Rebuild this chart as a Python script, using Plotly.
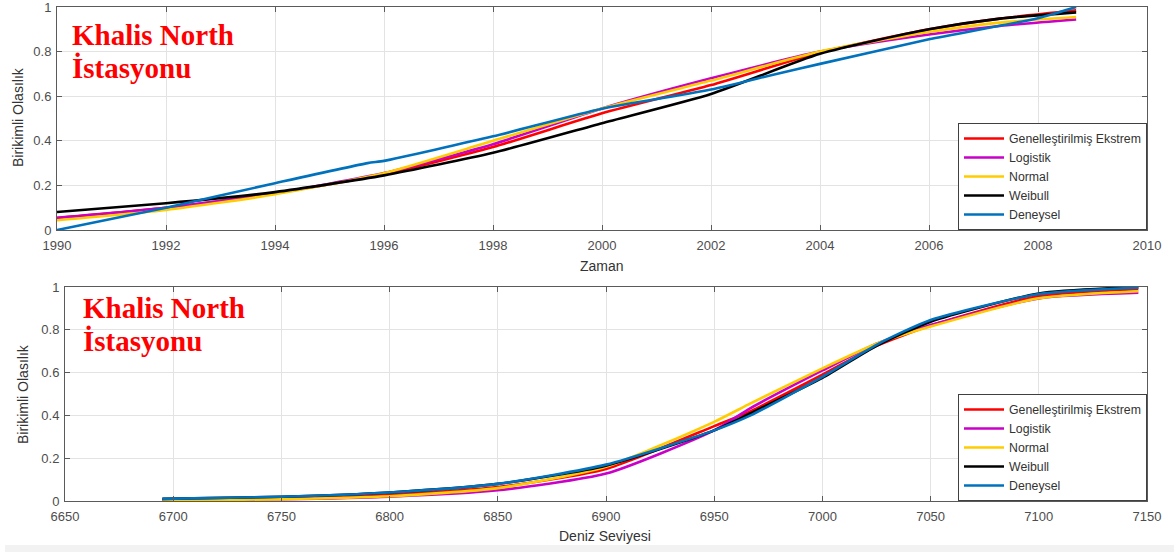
import plotly.graph_objects as go

W, H = 1174, 552

# ---- Top panel data (Zaman) ----
t_years = [1990, 1992, 1994, 1996, 1998, 2000, 2002, 2004, 2006, 2007.3, 2008.7]
t_gev = [0.055, 0.10, 0.165, 0.25, 0.372, 0.523, 0.65, 0.796, 0.90, 0.948, 0.985]
t_log = [0.054, 0.10, 0.165, 0.255, 0.385, 0.545, 0.68, 0.80, 0.877, 0.915, 0.944]
t_norm = [0.044, 0.09, 0.16, 0.255, 0.40, 0.545, 0.67, 0.80, 0.888, 0.93, 0.955]
t_weib = [0.081, 0.12, 0.17, 0.245, 0.346, 0.479, 0.61, 0.79, 0.90, 0.948, 0.976]
t_emp_x = [1990, 1992, 1994, 1995.7, 1996, 1998, 2000, 2002, 2003.2, 2004, 2006, 2008, 2008.7]
t_emp = [0.0, 0.10, 0.21, 0.30, 0.31, 0.42, 0.544, 0.63, 0.70, 0.745, 0.855, 0.95, 1.0]

# ---- Bottom panel data (Deniz Seviyesi) ----
b_x = [6695, 6750, 6800, 6850, 6900, 6950, 6966.8, 7000, 7025, 7050, 7100, 7146]
b_gev = [0.005, 0.012, 0.03, 0.065, 0.15, 0.35, 0.42, 0.59, 0.725, 0.82, 0.958, 0.99]
b_log = [0.003, 0.008, 0.02, 0.05, 0.128, 0.33, 0.434, 0.61, 0.735, 0.822, 0.947, 0.973]
b_norm = [0.002, 0.008, 0.022, 0.06, 0.16, 0.37, 0.456, 0.62, 0.735, 0.815, 0.947, 0.98]
b_weib = [0.01, 0.02, 0.04, 0.08, 0.165, 0.33, 0.41, 0.575, 0.725, 0.838, 0.97, 1.0]
b_emp = [0.01, 0.02, 0.04, 0.08, 0.17, 0.33, 0.40, 0.58, 0.73, 0.846, 0.967, 0.997]

names = ["Genelleştirilmiş Ekstrem", "Logistik", "Normal", "Weibull", "Deneysel"]
colors = ["#ff0000", "#c800c8", "#ffcc00", "#000000", "#0072bd"]

x_ticks_top = [1990, 1992, 1994, 1996, 1998, 2000, 2002, 2004, 2006, 2008, 2010]
x_ticks_bot = [6650, 6700, 6750, 6800, 6850, 6900, 6950, 7000, 7050, 7100, 7150]
y_ticks = [0, 0.2, 0.4, 0.6, 0.8, 1]

fig = go.Figure()

top_series = [(t_years, t_gev), (t_years, t_log), (t_years, t_norm), (t_years, t_weib), (t_emp_x, t_emp)]
for (xs, ys), n, c in zip(top_series, names, colors):
    fig.add_trace(go.Scatter(x=xs, y=ys, mode="lines", name=n,
                             line=dict(color=c, width=2.6, shape="spline", smoothing=0.6),
                             xaxis="x", yaxis="y", legend="legend"))

bot_series = [b_gev, b_log, b_norm, b_weib, b_emp]
for ys, n, c in zip(bot_series, names, colors):
    fig.add_trace(go.Scatter(x=b_x, y=ys, mode="lines", name=n,
                             line=dict(color=c, width=2.6, shape="spline", smoothing=0.6),
                             xaxis="x2", yaxis="y2", legend="legend2"))


def px_x(p):
    return p / W


def px_y(p):
    return 1 - p / H


axis_common = dict(showline=True, mirror="allticks", linecolor="#5a5a5a", linewidth=1,
                   ticks="inside", ticklen=5, tickcolor="#5a5a5a",
                   showgrid=True, gridcolor="#e3e3e3", gridwidth=1, zeroline=False,
                   tickfont=dict(family="Liberation Sans, Arial", size=13, color="#4d4d4d"),
                   ticklabeloverflow="allow", automargin=False)

legend_common = dict(xanchor="right", yanchor="bottom",
                     bgcolor="white", bordercolor="#404040", borderwidth=1,
                     font=dict(family="Liberation Sans, Arial", size=12.3, color="#333333"),
                     tracegroupgap=0, itemwidth=40)

fig.update_layout(
    width=W, height=H,
    margin=dict(l=0, r=0, t=0, b=0),
    paper_bgcolor="white", plot_bgcolor="white",
    showlegend=True,
    xaxis=dict(domain=[px_x(57), px_x(1147)], range=[1990, 2010], tickvals=x_ticks_top,
               anchor="y", ticklabelstandoff=3, **axis_common),
    yaxis=dict(domain=[px_y(230), px_y(7)], range=[0, 1], tickvals=y_ticks,
               anchor="x", ticklabelstandoff=2, **axis_common),
    xaxis2=dict(domain=[px_x(65), px_x(1147)], range=[6650, 7150], tickvals=x_ticks_bot,
                anchor="y2", ticklabelstandoff=3, **axis_common),
    yaxis2=dict(domain=[px_y(501), px_y(287)], range=[0, 1], tickvals=y_ticks,
                anchor="x2", ticklabelstandoff=2, **axis_common),
    legend=dict(x=px_x(1147), y=px_y(230), **legend_common),
    legend2=dict(x=px_x(1147), y=px_y(501), **legend_common),
)

ann_font = dict(family="Liberation Sans, Arial", size=14, color="#333333")
title_font = dict(family="Liberation Serif, Times New Roman", size=29, color="#ff0000")

# station labels (two lines each, placed separately for exact line spacing)
for (lx, ly1, ly2) in [(70, 35, 68), (81, 308, 341)]:
    fig.add_annotation(text="<b>Khalis North</b>", xref="paper", yref="paper",
                       x=px_x(lx), y=px_y(ly1), xanchor="left", yanchor="middle",
                       showarrow=False, font=title_font)
    fig.add_annotation(text="<b>İstasyonu</b>", xref="paper", yref="paper",
                       x=px_x(lx), y=px_y(ly2), xanchor="left", yanchor="middle",
                       showarrow=False, font=title_font)

axis_titles = [("Zaman", 602, 266, 0), ("Deniz Seviyesi", 605, 536, 0),
               ("Birikimli Olasılık", 18, 117, -90), ("Birikimli Olasılık", 23, 394, -90)]
for txt, ax, ay, ang in axis_titles:
    fig.add_annotation(text=txt, xref="paper", yref="paper", x=px_x(ax), y=px_y(ay),
                       xanchor="center", yanchor="middle", textangle=ang,
                       showarrow=False, font=ann_font)

fig.add_shape(type="rect", xref="paper", yref="paper", x0=px_x(5), x1=1, y0=0, y1=px_y(545),
              fillcolor="#f2f2f2", line=dict(width=0), layer="below")

fig.write_html("out.html")
